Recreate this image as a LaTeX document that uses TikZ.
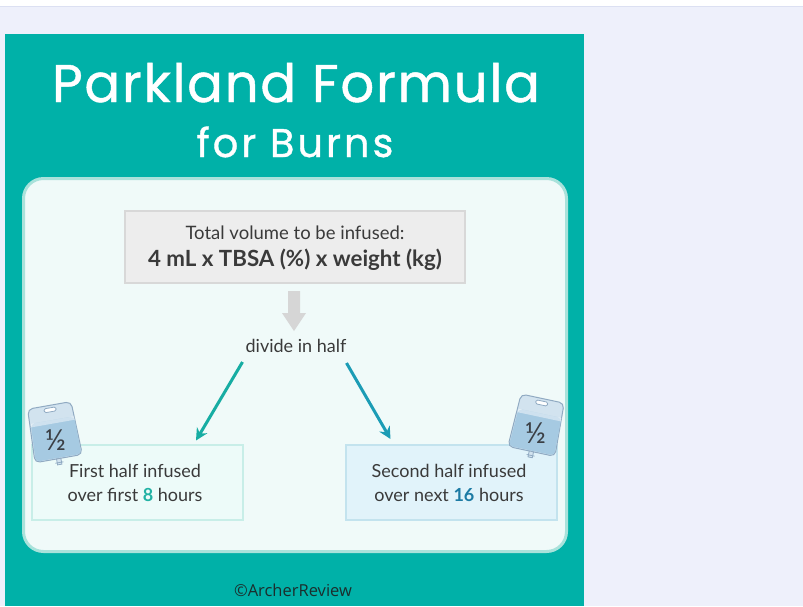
\documentclass[tikz,border=0pt]{standalone}
\usepackage{fontspec}
\setmainfont{Lato}
\newfontfamily\headfont[LetterSpace=3.2, FakeBold=0.9]{Poppins}
\newfontfamily\subheadfont[LetterSpace=7.5, FakeBold=0.9]{Poppins}
\newfontfamily\creditfont{Open Sans}
\usetikzlibrary{arrows.meta,calc}

\definecolor{pagebg}{HTML}{EEF0FB}
\definecolor{pageline}{HTML}{DCE0F2}
\definecolor{tealbg}{HTML}{00B1A8}
\definecolor{panelfill}{HTML}{F0FAF9}
\definecolor{panelrim}{HTML}{A9E2DB}
\definecolor{formulafill}{HTML}{EDEDED}
\definecolor{formularim}{HTML}{D8D8D8}
\definecolor{blockgray}{HTML}{D6D6D6}
\definecolor{bodytext}{HTML}{3A3A3A}
\definecolor{tealarrow}{HTML}{17ADA3}
\definecolor{bluearrow}{HTML}{1C9CB5}
\definecolor{leftfill}{HTML}{EDFBF9}
\definecolor{leftrim}{HTML}{C8EEE8}
\definecolor{rightfill}{HTML}{E1F3FA}
\definecolor{rightrim}{HTML}{C3E3EE}
\definecolor{eightcol}{HTML}{22B2A4}
\definecolor{sixteencol}{HTML}{1D7BA4}
\definecolor{creditcol}{HTML}{1B2E2D}
\definecolor{bagfill}{HTML}{D2E3EF}
\definecolor{bagliquid}{HTML}{A6CAE2}
\definecolor{bagrim}{HTML}{90AAC2}
\definecolor{bagtext}{HTML}{3B3F45}

\tikzset{
  textline/.style={inner sep=0pt, text=bodytext, anchor=base},
  bodyfont/.style={font=\fontsize{18}{20}\selectfont},
  halfbox/.style={minimum width=211pt, minimum height=75pt, line width=1.2pt, inner sep=0pt},
  splitarrow/.style={line width=3pt, -{Stealth[length=12pt,width=12pt,inset=4pt]}},
  ivbag/.pic={
    % bag body
    \draw[bagrim, fill=bagfill, line width=1pt, rounded corners=5pt]
      (-22,-27) -- (22,-27) -- (24,27) -- (-24,27) -- cycle;
    % liquid inside the bag
    \fill[bagliquid, rounded corners=4pt]
      (-21.5,-12) -- (22.5,-12) -- (23.2,26.2) -- (-23.2,26.2) -- cycle;
    \fill[white, opacity=0.45] (-21.5,-12) rectangle (22.5,-8.5);
    % hanger slot
    \draw[bagrim, fill=white, line width=0.8pt, rounded corners=1.5pt]
      (-6,-24.5) rectangle (6,-20.5);
    % outlet port
    \draw[bagrim, fill=bagfill, line width=0.8pt] (-2.2,27) rectangle (2.2,33);
    \draw[bagrim, line width=0.8pt] (-4,31) -- (4,31);
    \node[text=bagtext, font=\fontsize{29}{29}\selectfont, inner sep=0pt] at (0,8) {½};
  }
}

\begin{document}
\begin{tikzpicture}[x=1pt, y=-1pt]
\useasboundingbox (0,0) rectangle (803,606);

% page background
\fill[white] (0,0) rectangle (803,606);
\fill[pagebg] (0,6) rectangle (803,606);
\draw[pageline, line width=1pt] (0,6.5) -- (803,6.5);

% teal card
\fill[tealbg] (5,34) rectangle (584,606);

% heading
\node[inner sep=0pt, anchor=base, text=white, font=\headfont\fontsize{53}{53}\selectfont]
  (title) at (296,102) {Parkland Formula};
\node[inner sep=0pt, anchor=base, text=white, font=\subheadfont\fontsize{40}{40}\selectfont]
  (subtitle) at (295,157) {for Burns};

% light inner panel
\draw[panelrim, fill=panelfill, line width=3pt, rounded corners=20pt]
  (23.5,178.5) rectangle (566.5,551.5);

% formula box
\node[draw=formularim, fill=formulafill, line width=1.2pt, minimum width=340pt,
      minimum height=72pt, inner sep=0pt] (formula) at (295,247) {};
\node[textline, font=\fontsize{18.5}{20}\selectfont] (formulahead) at (295,239)
  {Total volume to be infused:};
\node[textline, font=\fontsize{22.3}{24}\selectfont\bfseries] (formulabody) at (295,266)
  {4 mL x TBSA (\%) x weight (kg)};

% grey block arrow
\fill[blockgray] (288,291) -- (300,291) -- (300,313) -- (306,313) -- (294,331)
  -- (282,313) -- (288,313) -- cycle;

\node[textline, bodyfont] (divide) at (296,352) {divide in half};

% first half box
\node[halfbox, draw=leftrim, fill=leftfill] (firsthalf) at (137.5,482.5) {};
\node[textline, bodyfont] (firstA) at (135,477) {First half infused};
\node[textline, bodyfont] (firstB) at (135,501)
  {over first {\bfseries\color{eightcol}8} hours};

% second half box
\node[halfbox, draw=rightrim, fill=rightfill] (secondhalf) at (451.5,482.5) {};
\node[textline, bodyfont] (secondA) at (449,477) {Second half infused};
\node[textline, bodyfont] (secondB) at (449,501)
  {over next {\bfseries\color{sixteencol}16} hours};

% split arrows
\coordinate (leftstart) at (242.5,362);
\coordinate (leftend) at (196,440.5);
\coordinate (rightstart) at (346.5,363);
\coordinate (rightend) at (390.5,439);
\draw[splitarrow, tealarrow] (leftstart) -- (leftend);
\draw[splitarrow, bluearrow] (rightstart) -- (rightend);

% infusion bags
\pic[rotate=10] at (54,432) {ivbag};
\pic[rotate=-12] at (537,425) {ivbag};

% credit line
\node[inner sep=0pt, anchor=base, text=creditcol, font=\creditfont\fontsize{16.5}{16}\selectfont]
  (credit) at (293,596) {©ArcherReview};
\end{tikzpicture}
\end{document}
